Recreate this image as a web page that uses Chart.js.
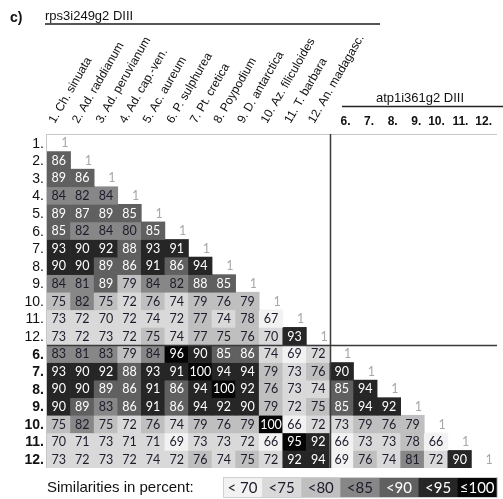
<!DOCTYPE html>
<html>
<head>
<meta charset="utf-8">
<script src="https://cdn.jsdelivr.net/npm/chart.js@4.4.1/dist/chart.umd.min.js"></script>
<style>
    html, body { margin: 0; padding: 0; background: #fff; }
    #wrap { width: 503px; height: 499px; position: relative; }
</style>
</head>
<body>
<div id="wrap"><canvas id="heatChart"></canvas></div>
<script>
// Species of the rps3i249g2 block (columns of the left part)
const rps3Species = ['1. Ch. sinuata', '2. Ad. raddianum', '3. Ad. peruvianum', '4. Ad. cap.-ven.',
    '5. Ac. aureum', '6. P. sulphurea', '7. Pt. cretica', '8. Poypodium', '9. D. antarctica',
    '10. Az. filiculoides', '11. T. barbara', '12. An. madagasc.'];
// Taxa of the atp1i361g2 block
const atp1Taxa = ['6.', '7.', '8.', '9.', '10.', '11.', '12.'];
const upperRowLabels = ['1.', '2.', '3.', '4.', '5.', '6.', '7.', '8.', '9.', '10.', '11.', '12.'];
const lowerRowLabels = ['6.', '7.', '8.', '9.', '10.', '11.', '12.'];

// rps3 vs rps3 (lower triangle, 1 on the diagonal)
const rps3Values = [
    [1],
    [86, 1],
    [89, 86, 1],
    [84, 82, 84, 1],
    [89, 87, 89, 85, 1],
    [85, 82, 84, 80, 85, 1],
    [93, 90, 92, 88, 93, 91, 1],
    [90, 90, 89, 86, 91, 86, 94, 1],
    [84, 81, 89, 79, 84, 82, 88, 85, 1],
    [75, 82, 75, 72, 76, 74, 79, 76, 79, 1],
    [73, 72, 70, 72, 74, 72, 77, 74, 78, 67, 1],
    [73, 72, 73, 72, 75, 74, 77, 75, 76, 70, 93, 1]
];
// atp1 rows against the rps3 columns
const atp1VsRps3 = [
    [83, 81, 83, 79, 84, 96, 90, 85, 86, 74, 69, 72],
    [93, 90, 92, 88, 93, 91, 100, 94, 94, 79, 73, 76],
    [90, 90, 89, 86, 91, 86, 94, 100, 92, 76, 73, 74],
    [90, 89, 83, 86, 91, 86, 94, 92, 90, 79, 72, 75],
    [75, 82, 75, 72, 76, 74, 79, 76, 79, 100, 66, 72],
    [70, 71, 73, 71, 71, 69, 73, 73, 72, 66, 95, 92],
    [73, 72, 73, 72, 74, 72, 76, 74, 75, 72, 92, 94]
];
// atp1 vs atp1 (lower triangle)
const atp1Values = [
    [1],
    [90, 1],
    [85, 94, 1],
    [85, 94, 92, 1],
    [73, 79, 76, 79, 1],
    [66, 73, 73, 78, 66, 1],
    [69, 76, 74, 81, 72, 90, 1]
];

const binLimits = [70, 75, 80, 85, 90, 95];
const binLabels = ['< 70', '<75', '<80', '<85', '<90', '<95', '\u2264100'];
const binColors = ['#f2f2f2', '#d9d9d9', '#bfbfbf', '#878787', '#606060', '#262626', '#050505'];

function binIndex(v) {
    return binLimits.filter(l => v >= l).length;
}
function cellColor(v) {
    if (v === undefined || v === 1) return 'rgba(0,0,0,0)';
    return binColors[binIndex(v)];
}
function textColor(bin) {
    return bin >= 4 ? '#ffffff' : '#1c1c2c';
}

// build one bar dataset per row; each cell is a floating bar [row, row + 1]
const colKeys = rps3Species.map((s, i) => 'r' + (i + 1)).concat(atp1Taxa.map(t => 'a' + t));
const rows = rps3Values.slice();
atp1VsRps3.forEach((vals, r) => rows.push(vals.concat(atp1Values[r])));

const datasets = rows.map((vals, r) => ({
    vals: vals,
    data: colKeys.map((k, c) => c < vals.length ? [r, r + 1] : null),
    backgroundColor: ctx => cellColor(ctx.dataset.vals[ctx.dataIndex]),
    borderWidth: 0,
    grouped: false,
    categoryPercentage: 1,
    barPercentage: 1
}));

const FONT = '"Liberation Sans", Arial, sans-serif';
const CELL_FONT = 'Lato, "Open Sans", sans-serif';

// frame lines under the cells
const frameBelow = {
    id: 'frameBelow',
    beforeDatasetsDraw(chart) {
        const ctx = chart.ctx;
        const a = chart.chartArea;
        ctx.save();
        ctx.strokeStyle = '#c8c8c8';
        ctx.lineWidth = 1;
        ctx.beginPath();
        ctx.moveTo(a.left - 1, a.top + 0.5);
        ctx.lineTo(497, a.top + 0.5);
        ctx.moveTo(a.left - 0.5, a.top);
        ctx.lineTo(a.left - 0.5, a.bottom);
        ctx.stroke();
        ctx.restore();
    }
};

// numbers inside the cells and separators
const cellText = {
    id: 'cellText',
    afterDatasetsDraw(chart) {
        const ctx = chart.ctx;
        const x = chart.scales.x;
        const y = chart.scales.y;
        ctx.save();
        ctx.textBaseline = 'middle';
        ctx.textAlign = 'center';
        ctx.font = '12.5px ' + CELL_FONT;
        chart.data.datasets.forEach((ds, di) => {
            chart.getDatasetMeta(di).data.forEach((bar, j) => {
                const v = ds.vals[j];
                if (v === undefined) return;
                const cy = (bar.y + bar.base) / 2 + 0.5;
                if (v === 1) {
                    ctx.fillStyle = '#a8a8a8';
                    ctx.fillText('1', bar.x + 6, cy);
                } else {
                    ctx.fillStyle = textColor(binIndex(v));
                    ctx.fillText(String(v), bar.x, cy);
                }
            });
        });

        const colW = x.getPixelForValue(1) - x.getPixelForValue(0);
        const splitX = Math.round(x.getPixelForValue(rps3Species.length - 1) + colW / 2) + 0.5;
        const splitY = Math.round(y.getPixelForValue(rps3Values.length)) + 0.5;
        ctx.strokeStyle = '#3a3a3a';
        ctx.lineWidth = 1.5;
        ctx.beginPath();
        ctx.moveTo(splitX, chart.chartArea.top);
        ctx.lineTo(splitX, chart.chartArea.bottom);
        ctx.moveTo(chart.chartArea.left, splitY);
        ctx.lineTo(497, splitY);
        ctx.stroke();
        ctx.restore();
    }
};

// titles, axis texts and the colour key
const annotations = {
    id: 'annotations',
    afterDraw(chart) {
        const ctx = chart.ctx;
        const x = chart.scales.x;
        const y = chart.scales.y;
        const colW = x.getPixelForValue(1) - x.getPixelForValue(0);
        ctx.save();
        ctx.fillStyle = '#111';

        // panel letter and rps3 title
        ctx.textAlign = 'left';
        ctx.textBaseline = 'alphabetic';
        ctx.font = 'bold 14px ' + FONT;
        ctx.fillText('c)', 10, 22);
        ctx.font = '13px ' + FONT;
        ctx.fillText('rps3i249g2 DIII', 45, 20);
        ctx.strokeStyle = '#555';
        ctx.lineWidth = 2;
        ctx.beginPath();
        ctx.moveTo(45, 24);
        ctx.lineTo(380, 24);
        ctx.stroke();

        // rotated species names
        ctx.font = '12px ' + FONT;
        rps3Species.forEach((name, i) => {
            ctx.save();
            ctx.translate(x.getPixelForValue(i) - 4, 124);
            ctx.rotate(-60 * Math.PI / 180);
            ctx.fillText(name, 0, 0);
            ctx.restore();
        });

        // atp1 title and column numbers
        ctx.textAlign = 'center';
        ctx.font = '13px ' + FONT;
        ctx.fillText('atp1i361g2 DIII', 420, 102);
        ctx.strokeStyle = '#222';
        ctx.lineWidth = 1.5;
        ctx.beginPath();
        ctx.moveTo(342, 106.5);
        ctx.lineTo(503, 106.5);
        ctx.stroke();
        ctx.textAlign = 'right';
        ctx.textBaseline = 'middle';
        ctx.font = 'bold 12px ' + FONT;
        atp1Taxa.forEach((t, k) => {
            const c = rps3Species.length + k;
            ctx.fillText(t, x.getPixelForValue(c) + colW / 2 - 3, 122);
        });

        // row labels
        ctx.font = '14px ' + FONT;
        upperRowLabels.forEach((t, r) => {
            ctx.fillText(t, 44, y.getPixelForValue(r + 0.5) + 1);
        });
        ctx.font = 'bold 14px ' + FONT;
        lowerRowLabels.forEach((t, r) => {
            ctx.fillText(t, 44, y.getPixelForValue(upperRowLabels.length + r + 0.5) + 1);
        });

        // colour key
        ctx.textAlign = 'left';
        ctx.font = '15px ' + FONT;
        ctx.fillStyle = '#111';
        ctx.fillText('Similarities in percent:', 47, 488);
        const keyLeft = 223, keyW = 39.1, keyTop = 477, keyH = 20;
        binLabels.forEach((lab, i) => {
            const kx = keyLeft + i * keyW;
            ctx.fillStyle = binColors[i];
            ctx.fillRect(kx, keyTop, keyW + 0.5, keyH);
            ctx.fillStyle = textColor(i);
            ctx.textAlign = 'center';
            ctx.font = '15px ' + CELL_FONT;
            ctx.fillText(lab, kx + keyW / 2, keyTop + keyH / 2 + 1);
        });
        ctx.strokeStyle = '#d0d0d0';
        ctx.lineWidth = 1;
        ctx.strokeRect(keyLeft + 0.5, keyTop + 0.5, keyW * 7, keyH);
        ctx.restore();
    }
};

const ctx = document.getElementById('heatChart').getContext('2d');
new Chart(ctx, {
    type: 'bar',
    data: {
        labels: colKeys,
        datasets: datasets
    },
    options: {
        responsive: true,
        maintainAspectRatio: false,
        animation: false,
        events: [],
        layout: {
            padding: { left: 47, right: 8, top: 134, bottom: 31 }
        },
        plugins: {
            legend: { display: false },
            tooltip: { enabled: false }
        },
        scales: {
            x: {
                type: 'category',
                display: false,
                offset: true
            },
            y: {
                type: 'linear',
                display: false,
                min: 0,
                max: rows.length,
                reverse: true
            }
        }
    },
    plugins: [frameBelow, cellText, annotations]
});
</script>
</body>
</html>
